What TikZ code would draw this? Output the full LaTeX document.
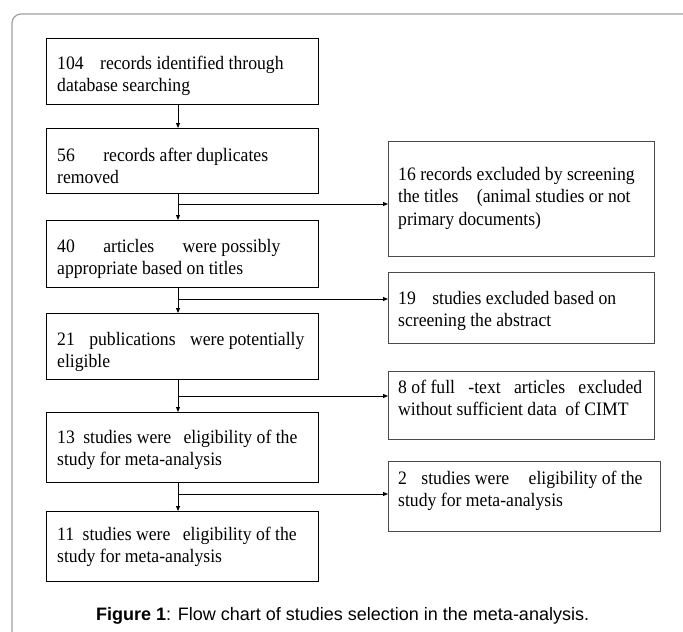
\documentclass[tikz,border=0pt]{standalone}
\usepackage{fontspec}
\setmainfont{Liberation Serif}[FakeStretch=0.93]
\newfontfamily\capfont{Liberation Sans}
\usetikzlibrary{arrows.meta}
\definecolor{framec}{HTML}{A0A0A0}
\definecolor{rboxc}{HTML}{4A4A4A}
\begin{document}
\begin{tikzpicture}[x=1pt,y=-1pt,
  lbox/.style={draw=black, line width=1pt, anchor=north west, inner sep=0pt, outer sep=0pt, minimum width=272pt},
  rbox/.style={draw=rboxc, line width=1pt, anchor=north west, inner sep=0pt, outer sep=0pt, minimum width=266pt},
  txt/.style={anchor=base west, inner sep=0pt, font=\fontsize{19}{22.8}\selectfont},
  arr/.style={draw=black, line width=0.9pt, -{Triangle[length=5pt,width=4pt]}}]
\useasboundingbox (0,0) rectangle (683,632);
\clip (0,0) rectangle (683,632);
\fill[white] (0,0) rectangle (683,632);
\draw[framec, line width=1.2pt, rounded corners=9pt] (12,14) rectangle (720,680);

% left boxes
\node[lbox, minimum height=66pt] (b1) at (46,38) {};
\node[lbox, minimum height=65pt] (b2) at (46,128) {};
\node[lbox, minimum height=67pt] (b3) at (46,220) {};
\node[lbox, minimum height=66pt] (b4) at (46,313) {};
\node[lbox, minimum height=70pt] (b5) at (46,412) {};
\node[lbox, minimum height=70pt] (b6) at (46,511) {};
% right boxes
\node[rbox, minimum height=115pt] (bA) at (388,141) {};
\node[rbox, minimum height=71pt] (bB) at (388,272) {};
\node[rbox, minimum height=68pt] (bC) at (388,371) {};
\node[rbox, minimum height=70pt, minimum width=272pt] (bD) at (388,461) {};

% texts
\node[txt] (t1) at (57,69) {\vtop{\hbox{104\hspace{12pt} records identified through}\hbox{database searching}}};
\node[txt] (t2) at (57,161) {\vtop{\hbox{56\hspace{24pt} records after duplicates}\hbox{removed}}};
\node[txt] (t3) at (57,252) {\vtop{\hbox{40\hspace{24pt} articles\hspace{24pt} were possibly}\hbox{appropriate based on titles}}};
\node[txt] (t4) at (57,345) {\vtop{\hbox{21\hspace{10pt} publications\hspace{10pt} were potentially}\hbox{eligible}}};
\node[txt] (t5) at (57,443) {\vtop{\hbox{13\hspace{4pt} studies were\hspace{8pt} eligibility of the}\hbox{study for meta-analysis}}};
\node[txt] (t6) at (57,540) {\vtop{\hbox{11\hspace{4pt} studies were\hspace{8pt} eligibility of the}\hbox{study for meta-analysis}}};
\node[txt] (tA) at (398,180) {\vtop{\hbox{16 records excluded by screening}\hbox{the titles\hspace{14pt} (animal studies or not}\hbox{primary documents)}}};
\node[txt] (tB) at (398,304) {\vtop{\hbox{19\hspace{12pt} studies excluded based on}\hbox{screening the abstract}}};
\node[txt] (tC) at (398,393) {\vtop{\hbox to 244pt{8 of full\hfill -text\hfill articles\hfill excluded}\hbox{without sufficient data\hspace{4pt} of CIMT}}};
\node[txt] (tD) at (398,484) {\vtop{\hbox{2\hspace{10pt} studies were\hspace{15pt} eligibility of the}\hbox{study for meta-analysis}}};

% vertical arrows
\draw[arr] ([xshift=-4pt]b1.south) -- ([xshift=-4pt]b2.north);
\draw[arr] ([xshift=-4pt]b2.south) -- ([xshift=-4pt]b3.north);
\draw[arr] ([xshift=-4pt]b3.south) -- ([xshift=-4pt]b4.north);
\draw[arr] ([xshift=-4pt]b4.south) -- ([xshift=-4pt]b5.north);
\draw[arr] ([xshift=-4pt]b5.south) -- ([xshift=-4pt]b6.north);

% branches
\coordinate (j1) at (178,204);
\coordinate (j2) at (178,299);
\coordinate (j3) at (178,396);
\coordinate (j4) at (178,494);
\draw[arr] (j1) -- (j1 -| bA.west);
\draw[arr] (j2) -- (j2 -| bB.west);
\draw[arr] (j3) -- (j3 -| bC.west);
\draw[arr] (j4) -- (j4 -| bD.west);

% caption
\node[anchor=base west, inner sep=0pt, font=\capfont\fontsize{18}{22}\selectfont] (cap) at (96,620) {\textbf{Figure 1}: Flow chart of studies selection in the meta-analysis.};
\end{tikzpicture}
\end{document}
